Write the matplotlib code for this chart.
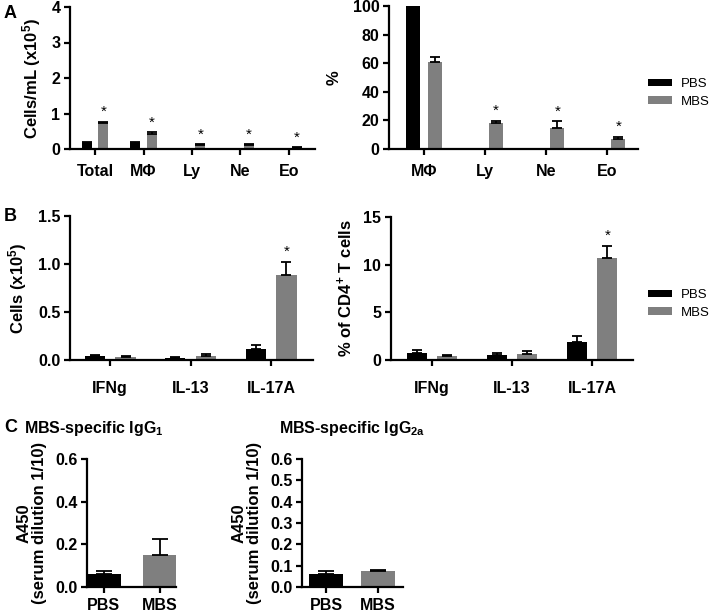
import numpy as np
import matplotlib
matplotlib.use("Agg")
import matplotlib.pyplot as plt

plt.rcParams['font.family'] = ['Liberation Sans', 'DejaVu Sans']
plt.rcParams['font.weight'] = 'bold'
plt.rcParams['mathtext.fontset'] = 'custom'
plt.rcParams['mathtext.rm'] = 'Liberation Sans:bold'
plt.rcParams['mathtext.it'] = 'Liberation Sans:bold'
plt.rcParams['mathtext.bf'] = 'Liberation Sans:bold'

# ---- data ----
cells_cats = ['Total', 'M\u03a6', 'Ly', 'Ne', 'Eo']
cells_pbs = [0.17, 0.17, 0.0, 0.0, 0.0]
cells_pbs_err = [0.03, 0.03, 0.0, 0.0, 0.0]
cells_mbs = [0.72, 0.43, 0.11, 0.10, 0.04]
cells_mbs_err = [0.04, 0.04, 0.02, 0.03, 0.01]
cells_star = [True, True, True, True, True]

pct_cats = ['M\u03a6', 'Ly', 'Ne', 'Eo']
pct_pbs = [100, 0, 0, 0]
pct_pbs_err = [0, 0, 0, 0]
pct_mbs = [61, 18, 15, 7]
pct_mbs_err = [3.5, 1.5, 4.3, 1.3]
pct_star = [False, True, True, True]

cyt_cats = ['IFNg', 'IL-13', 'IL-17A']
cyt_cells_pbs = [0.04, 0.025, 0.115]
cyt_cells_pbs_err = [0.015, 0.01, 0.04]
cyt_cells_mbs = [0.03, 0.04, 0.885]
cyt_cells_mbs_err = [0.01, 0.025, 0.135]
cyt_cells_star = [False, False, True]

cyt_pct_pbs = [0.75, 0.55, 1.9]
cyt_pct_pbs_err = [0.3, 0.2, 0.6]
cyt_pct_mbs = [0.4, 0.6, 10.7]
cyt_pct_mbs_err = [0.1, 0.3, 1.3]
cyt_pct_star = [False, False, True]

ig_cats = ['PBS', 'MBS']
igg1 = [0.06, 0.15]
igg1_err = [0.013, 0.073]
igg2a = [0.06, 0.075]
igg2a_err = [0.015, 0.004]

PBS_C = '#000000'
MBS_C = '#7f7f7f'
TICK_FS = 11.5
LAB_FS = 12

W, H = 709, 614
fig = plt.figure(figsize=(W / 100, H / 100), dpi=100)


def px_axes(left, right, top, bottom):
    return fig.add_axes([left / W, 1 - bottom / H, (right - left) / W, (bottom - top) / H])


def style(ax, xpad=6):
    for s in ['top', 'right']:
        ax.spines[s].set_visible(False)
    for s in ['left', 'bottom']:
        ax.spines[s].set_linewidth(1.6)
    ax.tick_params(width=1.6, length=4, labelsize=TICK_FS, pad=3)
    ax.tick_params(axis='x', pad=xpad)
    for lab in ax.get_xticklabels() + ax.get_yticklabels():
        lab.set_fontweight('bold')


def grouped(ax, cats, pbs, pbs_err, mbs, mbs_err, stars, off, w, ymax, xlim):
    x = np.arange(len(cats))
    ek = dict(ecolor='black', elinewidth=1.3, capsize=3.5, capthick=1.3)
    ax.bar(x - off, pbs, w, color=PBS_C, label='PBS',
           yerr=[np.zeros(len(cats)), pbs_err], error_kw=ek)
    ax.bar(x + off, mbs, w, color=MBS_C, label='MBS',
           yerr=[np.zeros(len(cats)), mbs_err], error_kw=ek)
    for i, s in enumerate(stars):
        if s:
            ax.text(x[i] + off, mbs[i] + mbs_err[i] + ymax * 0.02, '*',
                    ha='center', va='bottom', fontsize=11, fontweight='normal')
    ax.set_xticks(x)
    ax.set_xticklabels(cats)
    ax.set_xlim(*xlim)
    ax.set_ylim(0, ymax)


def add_legend(ax, ycenter):
    ax.legend(loc='center left', bbox_to_anchor=(648 / W, 1 - ycenter / H),
              bbox_transform=fig.transFigure, frameon=False, borderpad=0, borderaxespad=0,
              prop={'size': 9.5, 'weight': 'normal'}, handlelength=1.8, handleheight=0.5,
              handletextpad=0.7, labelspacing=0.42)


# A left
ax1 = px_axes(70, 315, 7, 149)
grouped(ax1, cells_cats, cells_pbs, cells_pbs_err, cells_mbs, cells_mbs_err,
        cells_star, 0.17, 0.21, 4, (-0.52, 4.54))
ax1.set_yticks([0, 1, 2, 3, 4])
ax1.set_ylabel('Cells/mL (x10$^5$)', fontsize=LAB_FS, fontweight='bold', labelpad=6)
style(ax1, xpad=7)

# A right
ax2 = px_axes(389, 638, 6, 149)
grouped(ax2, pct_cats, pct_pbs, pct_pbs_err, pct_mbs, pct_mbs_err,
        pct_star, 0.18, 0.23, 100, (-0.57, 3.5))
ax2.set_yticks([0, 20, 40, 60, 80, 100])
ax2.set_ylabel('%', fontsize=LAB_FS, fontweight='bold', labelpad=8)
style(ax2, xpad=7)
add_legend(ax2, 93)

# B left
ax3 = px_axes(70, 313, 216, 360)
grouped(ax3, cyt_cats, cyt_cells_pbs, cyt_cells_pbs_err, cyt_cells_mbs,
        cyt_cells_mbs_err, cyt_cells_star, 0.19, 0.25, 1.5, (-0.5, 2.52))
ax3.set_yticks([0, 0.5, 1.0, 1.5])
ax3.set_yticklabels(['0.0', '0.5', '1.0', '1.5'])
ax3.set_ylabel('Cells (x10$^5$)', fontsize=LAB_FS, fontweight='bold', labelpad=6)
style(ax3, xpad=11)

# B right
ax4 = px_axes(391, 633, 217, 360)
grouped(ax4, cyt_cats, cyt_pct_pbs, cyt_pct_pbs_err, cyt_pct_mbs,
        cyt_pct_mbs_err, cyt_pct_star, 0.19, 0.25, 15, (-0.51, 2.51))
ax4.set_yticks([0, 5, 10, 15])
ax4.set_ylabel('% of CD4$^{+}$ T cells', fontsize=LAB_FS, fontweight='bold', labelpad=6)
style(ax4, xpad=11)
add_legend(ax4, 304)

# C left
ax5 = px_axes(87, 176, 459, 587)
ek = dict(ecolor='black', elinewidth=1.3, capsize=6, capthick=1.3)
ax5.bar(np.arange(2), igg1, 0.6, color=[PBS_C, MBS_C],
        yerr=[np.zeros(2), igg1_err], error_kw=ek)
ax5.set_xticks(np.arange(2))
ax5.set_xticklabels(ig_cats)
ax5.set_xlim(-0.3, 1.29)
ax5.set_ylim(0, 0.6)
ax5.set_yticks([0, 0.2, 0.4, 0.6])
ax5.set_yticklabels(['0.0', '0.2', '0.4', '0.6'])
ax5.set_ylabel('A450\n(serum dilution 1/10)', fontsize=LAB_FS, fontweight='bold',
               linespacing=1.0, labelpad=6)
style(ax5, xpad=4)
fig.text(94 / W, 1 - 428 / H, 'MBS-specific IgG$_1$', fontsize=11.5,
         fontweight='bold', ha='center', va='center')

# C right
ax6 = px_axes(302, 403, 459, 587)
ax6.bar(np.arange(2), igg2a, 0.66, color=[PBS_C, MBS_C],
        yerr=[np.zeros(2), igg2a_err], error_kw=ek)
ax6.set_xticks(np.arange(2))
ax6.set_xticklabels(ig_cats)
ax6.set_xlim(-0.46, 1.48)
ax6.set_ylim(0, 0.6)
ax6.set_yticks([0, 0.1, 0.2, 0.3, 0.4, 0.5, 0.6])
ax6.set_yticklabels(['0.0', '0.1', '0.2', '0.3', '0.4', '0.5', '0.6'])
ax6.set_ylabel('A450\n(serum dilution 1/10)', fontsize=LAB_FS, fontweight='bold',
               linespacing=1.0, labelpad=6)
style(ax6, xpad=4)
fig.text(352 / W, 1 - 428 / H, 'MBS-specific IgG$_{2a}$', fontsize=11.5,
         fontweight='bold', ha='center', va='center')

# panel letters
fig.text(4 / W, 1 - 13 / H, 'A', fontsize=13, fontweight='bold', va='center')
fig.text(4 / W, 1 - 217 / H, 'B', fontsize=13, fontweight='bold', va='center')
fig.text(4 / W, 1 - 428 / H, 'C', fontsize=13, fontweight='bold', va='center')

fig.savefig('out.png', dpi=100)
